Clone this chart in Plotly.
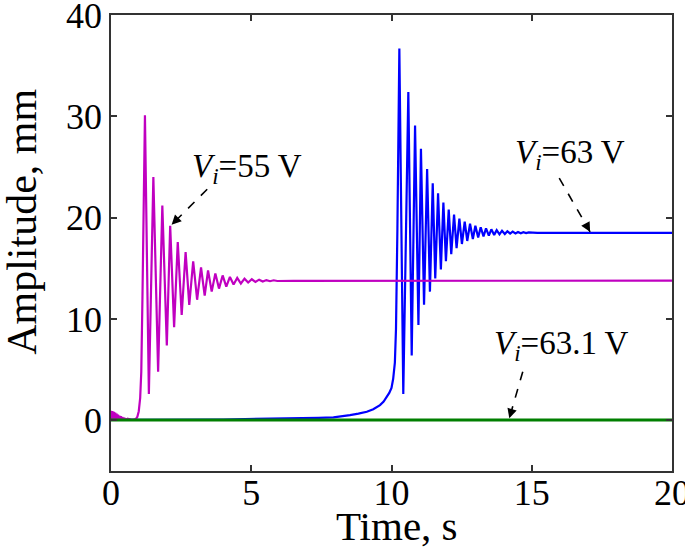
import plotly.graph_objects as go

# ---------------- data ----------------
x_ticks = [0, 5, 10, 15, 20]
y_ticks = [0, 10, 20, 30, 40]

# Vi = 55 V (magenta)
mag_time = [0.000, 0.025, 0.050, 0.075, 0.100, 0.125, 0.150, 0.175, 0.200, 0.225,
            0.250, 0.275, 0.300, 0.325, 0.350, 0.375, 0.400, 0.425, 0.450, 0.475,
            0.500, 0.525, 0.550, 0.575, 0.600, 0.650, 0.700, 0.800, 0.880, 0.940,
            0.990, 1.040, 1.080, 1.120, 1.170,
            1.21, 1.35, 1.51, 1.68, 1.83, 1.99, 2.11, 2.25, 2.38, 2.52,
            2.66, 2.79, 2.93, 3.07, 3.21, 3.34, 3.46, 3.59, 3.72, 3.85,
            3.98, 4.11, 4.24, 4.37, 4.50, 4.63, 4.76, 4.89, 5.02, 5.15,
            5.28, 5.41, 5.54, 5.67, 5.80, 5.93, 6.50, 20.0]
mag_amp = [0.95, 0.02, 0.92, 0.02, 0.85, 0.02, 0.76, 0.02, 0.66, 0.02,
           0.56, 0.02, 0.47, 0.02, 0.40, 0.02, 0.34, 0.02, 0.28, 0.02,
           0.23, 0.02, 0.19, 0.03, 0.16, 0.10, 0.08, 0.06, 0.12, 0.35,
           0.90, 2.2, 4.8, 11.9, 21.7,
           30.1, 2.6, 24.0, 4.8, 21.2, 7.4, 19.2, 9.2, 17.6, 10.4,
           16.6, 11.4, 15.7, 11.9, 15.1, 12.3, 14.8, 12.7, 14.5, 13.0,
           14.3, 13.2, 14.15, 13.4, 14.05, 13.5, 13.98, 13.6, 13.92, 13.66,
           13.88, 13.70, 13.84, 13.73, 13.82, 13.75, 13.77, 13.78]

# Vi = 63 V (blue)
blue_time = [0.0, 1.0, 4.0, 6.0, 6.74, 7.40, 7.93, 8.25, 8.52, 8.82, 9.12, 9.35,
             9.59, 9.72, 9.83, 9.92, 10.00, 10.06, 10.12, 10.16, 10.21,
             10.28, 10.42, 10.60, 10.72, 10.84, 10.96, 11.05, 11.16, 11.27, 11.37,
             11.47, 11.56, 11.66, 11.76, 11.85, 11.94, 12.04, 12.13, 12.23, 12.32,
             12.42, 12.51, 12.61, 12.70, 12.80, 12.90, 12.99, 13.09, 13.18, 13.28,
             13.37, 13.47, 13.56, 13.66, 13.75, 13.85, 13.94, 14.04, 14.13, 14.23,
             14.32, 14.42, 14.51, 14.61, 14.70, 14.80, 14.89, 15.20, 20.0]
blue_amp = [0.10, 0.05, 0.08, 0.15, 0.20, 0.25, 0.30, 0.39, 0.52, 0.66, 0.85, 1.10,
            1.50, 1.85, 2.30, 2.70, 3.20, 4.10, 5.70, 9.0, 18.8,
            36.7, 2.6, 32.4, 6.4, 29.1, 9.4, 26.8, 11.4, 24.8, 12.7,
            23.4, 14.0, 22.4, 14.9, 21.5, 15.7, 20.8, 16.4, 20.3, 17.0,
            19.9, 17.4, 19.6, 17.7, 19.4, 17.9, 19.2, 18.05, 19.05, 18.15,
            18.95, 18.23, 18.85, 18.30, 18.77, 18.35, 18.71, 18.39, 18.66, 18.42,
            18.62, 18.44, 18.59, 18.46, 18.56, 18.47, 18.54, 18.50, 18.50]

# Vi = 63.1 V (green)
green_time = [0.0, 5.0, 10.0, 15.0, 20.0]
green_amp = [0.03, 0.03, 0.03, 0.03, 0.03]

# labels: (text, text position, arrow tail, arrow tip, pixel offset of head)
labels = [
    ("<i>V<sub>i</sub></i>=55 V", (4.84, 24.9), (3.43, 22.8), (2.16, 19.3), (7, -7)),
    ("<i>V<sub>i</sub></i>=63 V", (16.36, 26.2), (15.98, 23.9), (17.08, 18.6), (-5, -9)),
    ("<i>V<sub>i</sub></i>=63.1 V", (16.07, 7.4), (14.68, 4.8), (14.20, 0.2), (3, -10)),
]
x_title = "Time, s"
y_title = "Amplitude, mm"

FONT = "Liberation Serif"

fig = go.Figure()
fig.add_trace(go.Scatter(x=blue_time, y=blue_amp, mode="lines",
                         line=dict(color="#0000FF", width=2.2), showlegend=False))
fig.add_trace(go.Scatter(x=mag_time, y=mag_amp, mode="lines",
                         line=dict(color="#C000C0", width=2.2), showlegend=False))
fig.add_trace(go.Scatter(x=green_time, y=green_amp, mode="lines",
                         line=dict(color="#007F00", width=3), showlegend=False))

for text, (tx, ty), (x0, y0), (x1, y1), (ax, ay) in labels:
    fig.add_annotation(x=tx, y=ty, text=text, showarrow=False,
                       font=dict(family=FONT, size=33, color="black"))
    fig.add_shape(type="line", x0=x0, y0=y0, x1=x1, y1=y1, xref="x", yref="y",
                  line=dict(color="black", width=1.6, dash="dash"))
    fig.add_annotation(x=x1, y=y1, text="", showarrow=True, ax=ax, ay=ay,
                       arrowhead=2, arrowsize=1.2, arrowwidth=1.6, arrowcolor="black")

# axis titles placed as annotations to match the reference positions
fig.add_annotation(x=0.51, y=-0.12, xref="paper", yref="paper", text=x_title,
                   showarrow=False, xanchor="center", yanchor="middle",
                   font=dict(family=FONT, size=41, color="black"))
fig.add_annotation(x=-0.159, y=0.546, xref="paper", yref="paper", text=y_title,
                   showarrow=False, xanchor="center", yanchor="middle", textangle=-90,
                   font=dict(family=FONT, size=42, color="black"))

axis_common = dict(showline=True, mirror="ticks", linecolor="#333333", linewidth=1.8,
                   ticks="inside", ticklen=6, tickwidth=1.5, tickcolor="#333333",
                   showgrid=False, zeroline=False, ticklabeloverflow="allow",
                   tickfont=dict(family=FONT, size=36, color="black"))

fig.update_xaxes(range=[0, 20], tickvals=x_ticks, ticktext=[str(v) for v in x_ticks],
                 ticklabelstandoff=-11, **axis_common)
fig.update_yaxes(range=[-5, 40], tickvals=y_ticks, ticktext=[str(v) for v in y_ticks],
                 **axis_common)

fig.update_layout(width=685, height=549,
                  margin=dict(l=111, r=13, t=15, b=78, autoexpand=False),
                  plot_bgcolor="white", paper_bgcolor="white")

# remove the browser's default 8px body margin so the figure sits at the page origin
fig.write_html("out.html", config={"displayModeBar": False},
               post_script="document.body.style.margin='0';")
